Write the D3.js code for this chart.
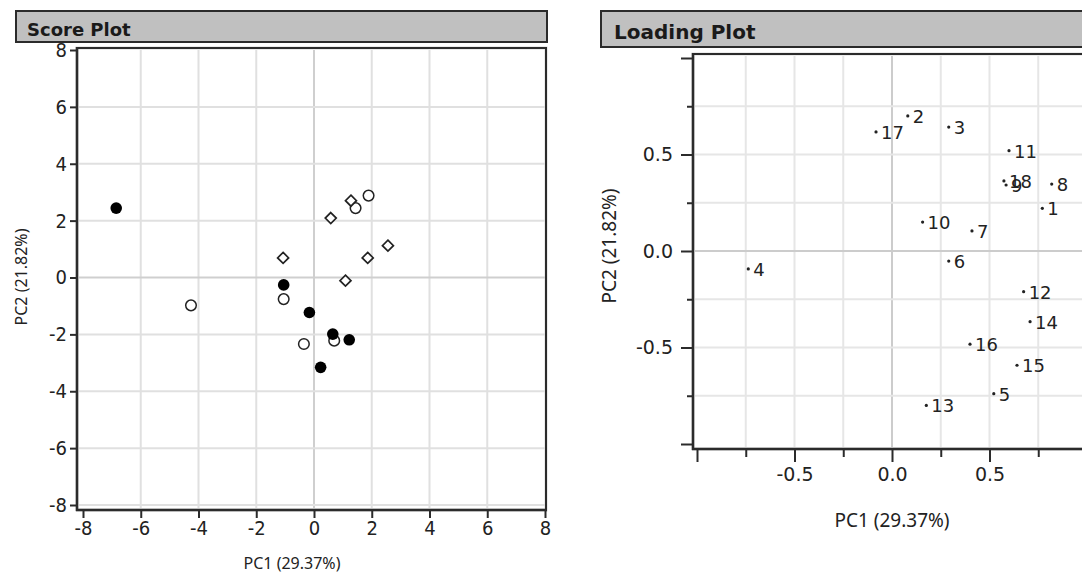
<!DOCTYPE html>
<html>
<head>
<meta charset="utf-8">
<style>
  body { margin: 0; background: #fff; }
  svg { display: block; }
  .tick text { fill: #222; }
</style>
</head>
<body>
<svg width="1082" height="577"></svg>
<script src="https://d3js.org/d3.v7.min.js"></script>
<script>
  // score plot: PC1 / PC2 per sample, three groups
  var filledPts = [[-6.85, 2.44], [-1.05, -0.26], [-0.16, -1.23], [0.65, -1.99], [1.22, -2.19], [0.23, -3.16]];
  var openPts = [[-4.26, -0.98], [-1.05, -0.76], [-0.35, -2.34], [0.70, -2.22], [1.44, 2.44], [1.89, 2.88]];
  var diamondPts = [[-1.07, 0.69], [0.58, 2.09], [1.28, 2.70], [1.09, -0.11], [1.86, 0.69], [2.56, 1.12]];
  var scoreTicks = [-8, -6, -4, -2, 0, 2, 4, 6, 8];

  // loading plot: variable id, PC1, PC2
  var loadIds = [1, 2, 3, 4, 5, 6, 7, 8, 9, 10, 11, 12, 13, 14, 15, 16, 17, 18];
  var loadPC1 = [0.771, 0.081, 0.291, -0.737, 0.522, 0.291, 0.41, 0.819, 0.585, 0.157, 0.60, 0.675, 0.176, 0.708, 0.641, 0.40, -0.082, 0.574];
  var loadPC2 = [0.221, 0.70, 0.642, -0.093, -0.739, -0.052, 0.104, 0.347, 0.342, 0.150, 0.52, -0.211, -0.80, -0.366, -0.592, -0.483, 0.617, 0.363];
  var loadGrid = [-1, -0.75, -0.5, -0.25, 0, 0.25, 0.5, 0.75, 1];
  var loadLabeled = [-0.5, 0, 0.5];

  var svg = d3.select("svg");
  var dark = "#2b2b2b";
  var condensed = "'DejaVu Sans Condensed', 'DejaVu Sans', sans-serif";
  // plain hyphen instead of d3's unicode minus
  function hy(f) { return function(d) { return f(d).replace("\u2212", "-"); }; }

  // ---------- Score plot ----------
  var sx = d3.scaleLinear().domain([-8, 8]).range([83, 545]);
  var sy = d3.scaleLinear().domain([-8, 8]).range([505, 50]);
  var s = svg.append("g");

  s.append("rect").attr("x", 77).attr("y", 48).attr("width", 469).attr("height", 462)
    .attr("fill", "#fff").attr("stroke", "#d8d8d8").attr("stroke-width", 3);

  // gridlines
  s.append("g").selectAll("line").data(scoreTicks.slice(1, -1)).enter().append("line")
    .attr("x1", function(d) { return sx(d); }).attr("x2", function(d) { return sx(d); })
    .attr("y1", 50).attr("y2", 508)
    .attr("stroke", function(d) { return d == 0 ? "#cfcfcf" : "#e0e0e0"; }).attr("stroke-width", 2);
  s.append("g").selectAll("line").data(scoreTicks.slice(0, -1)).enter().append("line")
    .attr("y1", function(d) { return sy(d); }).attr("y2", function(d) { return sy(d); })
    .attr("x1", 79).attr("x2", 545)
    .attr("stroke", function(d) { return d == 0 ? "#cfcfcf" : "#e0e0e0"; }).attr("stroke-width", 2);

  // frame
  s.append("line").attr("x1", 77).attr("x2", 547).attr("y1", 48).attr("y2", 48).attr("stroke", dark).attr("stroke-width", 2);
  s.append("line").attr("x1", 546).attr("x2", 546).attr("y1", 48).attr("y2", 510).attr("stroke", dark).attr("stroke-width", 2);

  var sxAxis = s.append("g").attr("transform", "translate(0,510)")
    .call(d3.axisBottom(sx).tickValues(scoreTicks).tickSize(8).tickPadding(3).tickFormat(hy(d3.format("d"))));
  sxAxis.select(".domain").attr("d", "M76,0H547").attr("stroke", dark).attr("stroke-width", 2.5);
  var syAxis = s.append("g").attr("transform", "translate(77,0)")
    .call(d3.axisLeft(sy).tickValues(scoreTicks).tickSize(7).tickPadding(3).tickFormat(hy(d3.format("d"))));
  syAxis.select(".domain").attr("d", "M0,47V511").attr("stroke", dark).attr("stroke-width", 2.5);
  [sxAxis, syAxis].forEach(function(a) {
    a.selectAll(".tick line").attr("stroke", dark).attr("stroke-width", 2);
    a.selectAll(".tick text").attr("font-family", condensed).attr("font-size", 20);
  });

  // markers
  s.append("g").selectAll("circle").data(openPts).enter().append("circle")
    .attr("cx", function(d) { return sx(d[0]); }).attr("cy", function(d) { return sy(d[1]); })
    .attr("r", 5.3).attr("fill", "#fff").attr("stroke", "#222").attr("stroke-width", 1.5);
  s.append("g").selectAll("path").data(diamondPts).enter().append("path")
    .attr("transform", function(d) { return "translate(" + sx(d[0]) + "," + sy(d[1]) + ")"; })
    .attr("d", "M0,-5.5L5.5,0L0,5.5L-5.5,0Z").attr("fill", "#fff").attr("stroke", "#222").attr("stroke-width", 1.7);
  s.append("g").selectAll("circle").data(filledPts).enter().append("circle")
    .attr("cx", function(d) { return sx(d[0]); }).attr("cy", function(d) { return sy(d[1]); })
    .attr("r", 5.8).attr("fill", "#000");

  s.append("text").attr("x", 292).attr("y", 569).attr("text-anchor", "middle")
    .attr("font-family", "'Noto Sans', sans-serif").attr("font-size", 16).attr("fill", "#222").text("PC1 (29.37%)");
  s.append("text").attr("transform", "translate(27,277) rotate(-90)").attr("text-anchor", "middle")
    .attr("font-family", "'Noto Sans', sans-serif").attr("font-size", 16).attr("fill", "#222").text("PC2 (21.82%)");

  // title bar
  s.append("rect").attr("x", 16).attr("y", 11).attr("width", 531).attr("height", 31)
    .attr("fill", "#c0c0c0").attr("stroke", dark).attr("stroke-width", 2);
  s.append("text").attr("x", 27).attr("y", 36).attr("font-family", "'DejaVu Sans', sans-serif")
    .attr("font-weight", "bold").attr("font-size", 18).attr("fill", "#1a1a1a").text("Score Plot");

  // ---------- Loading plot ----------
  var lx = d3.scaleLinear().domain([-1, 1]).range([697, 1087]);
  var ly = d3.scaleLinear().domain([-1, 1]).range([444, 58]);
  var l = svg.append("g");

  l.append("rect").attr("x", 693).attr("y", 54).attr("width", 400).attr("height", 395)
    .attr("fill", "#fff").attr("stroke", "#dcdcdc").attr("stroke-width", 3);
  l.append("g").selectAll("line").data(loadGrid.slice(1, -1)).enter().append("line")
    .attr("x1", function(d) { return lx(d); }).attr("x2", function(d) { return lx(d); })
    .attr("y1", 56).attr("y2", 447)
    .attr("stroke", function(d) { return d == 0 ? "#cccccc" : "#e6e6e6"; }).attr("stroke-width", 2);
  l.append("g").selectAll("line").data(loadGrid.slice(1, -1)).enter().append("line")
    .attr("y1", function(d) { return ly(d); }).attr("y2", function(d) { return ly(d); })
    .attr("x1", 695).attr("x2", 1082)
    .attr("stroke", function(d) { return d == 0 ? "#cccccc" : "#e6e6e6"; }).attr("stroke-width", 2);
  l.append("line").attr("x1", 693).attr("x2", 1082).attr("y1", 54).attr("y2", 54).attr("stroke", dark).attr("stroke-width", 2);

  var fmt = hy(d3.format(".1f"));
  var lxAxis = l.append("g").attr("transform", "translate(0,449)")
    .call(d3.axisBottom(lx).tickValues(loadGrid).tickSize(13).tickPadding(6)
      .tickFormat(function(d) { return loadLabeled.indexOf(d) >= 0 ? fmt(d) : ""; }));
  lxAxis.select(".domain").attr("d", "M692,0H1082").attr("stroke", dark).attr("stroke-width", 2.5);
  var lyAxis = l.append("g").attr("transform", "translate(693,0)")
    .call(d3.axisLeft(ly).tickValues(loadGrid).tickSize(12).tickPadding(8)
      .tickFormat(function(d) { return loadLabeled.indexOf(d) >= 0 ? fmt(d) : ""; }));
  lyAxis.select(".domain").attr("d", "M0,53V450").attr("stroke", dark).attr("stroke-width", 2.5);
  [lxAxis, lyAxis].forEach(function(a) {
    a.selectAll(".tick line").attr("stroke", dark).attr("stroke-width", 2);
    a.selectAll(".tick text").attr("font-family", "'DejaVu Sans', sans-serif").attr("font-size", 19);
  });
  // minor ticks are shorter
  lxAxis.selectAll(".tick line").attr("y2", function(d) { return loadLabeled.indexOf(d) >= 0 || d == -1 || d == 1 ? 13 : 8; });
  lyAxis.selectAll(".tick line").attr("x2", function(d) { return loadLabeled.indexOf(d) >= 0 || d == -1 || d == 1 ? -12 : -6; });

  var pts = l.append("g").selectAll("g").data(loadIds).enter().append("g")
    .attr("transform", function(d, i) { return "translate(" + lx(loadPC1[i]) + "," + ly(loadPC2[i]) + ")"; });
  pts.append("circle").attr("r", 1.6).attr("fill", "#222");
  pts.append("text").attr("x", 5).attr("y", 7)
    .attr("font-family", "'DejaVu Sans', sans-serif").attr("font-size", 18).attr("fill", "#222")
    .text(function(d) { return d; });

  l.append("text").attr("x", 892).attr("y", 527).attr("text-anchor", "middle")
    .attr("font-family", "'Noto Sans', sans-serif").attr("font-size", 19).attr("fill", "#222").text("PC1 (29.37%)");
  l.append("text").attr("transform", "translate(616,246) rotate(-90)").attr("text-anchor", "middle")
    .attr("font-family", "'Noto Sans', sans-serif").attr("font-size", 19).attr("fill", "#222").text("PC2 (21.82%)");

  l.append("rect").attr("x", 601).attr("y", 11).attr("width", 500).attr("height", 36)
    .attr("fill", "#c0c0c0").attr("stroke", dark).attr("stroke-width", 2);
  l.append("text").attr("x", 614).attr("y", 39).attr("font-family", "'DejaVu Sans', sans-serif")
    .attr("font-weight", "bold").attr("font-size", 20).attr("fill", "#1a1a1a").text("Loading Plot");
</script>
</body>
</html>
